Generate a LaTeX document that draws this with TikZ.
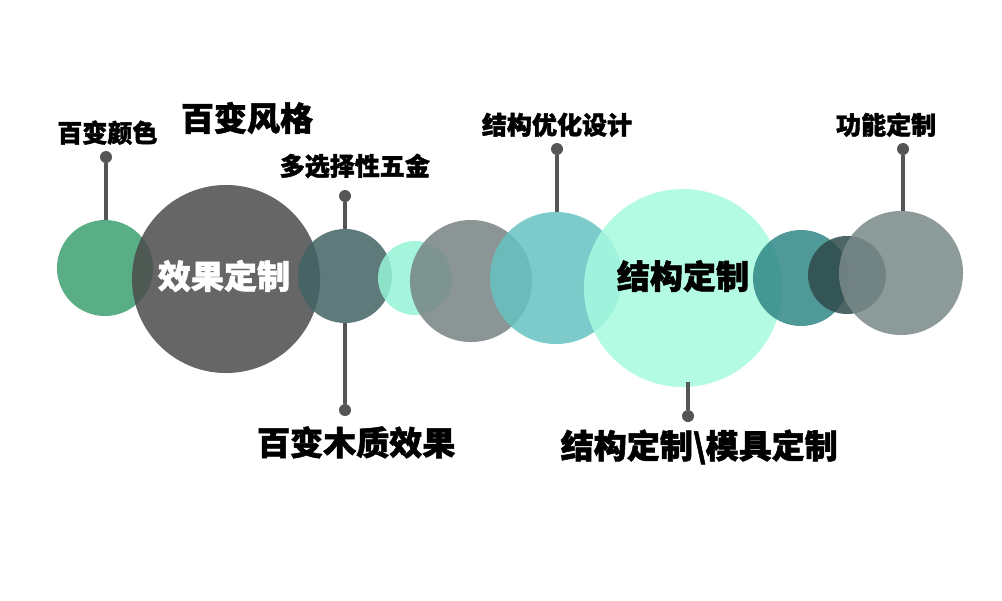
\documentclass[tikz,border=0pt]{standalone}
\usepackage{fontspec}
\setmainfont{Noto Sans CJK SC}[BoldFeatures={FakeBold=1.6}]
\usetikzlibrary{positioning}
\definecolor{cA}{HTML}{3DA070}
\definecolor{cB}{HTML}{4B4B4B}
\definecolor{cC}{HTML}{436363}
\definecolor{cD}{HTML}{94F3D6}
\definecolor{cE}{HTML}{788383}
\definecolor{cF}{HTML}{65C1C1}
\definecolor{cG}{HTML}{A6FADE}
\definecolor{cH}{HTML}{308886}
\definecolor{cI}{HTML}{2F4A4A}
\definecolor{cJ}{HTML}{798888}
\definecolor{pin}{HTML}{555555}
\tikzset{
    bubble/.style={circle, inner sep=0pt, fill opacity=0.85, text opacity=1},
    pindot/.style={circle, fill=pin, inner sep=0pt, minimum size=0.3cm},
    pinline/.style={draw=pin, line width=2.2pt},
    tagsmall/.style={font=\bfseries\fontsize{17.8}{20}\selectfont, inner sep=1pt},
    tagbig/.style={font=\bfseries\fontsize{23.5}{27}\selectfont, inner sep=1pt}
}
\begin{document}
\begin{tikzpicture}[x=0.025cm, y=-0.025cm]
    \useasboundingbox (0,0) rectangle (1002,600);

    % 圆
    \node[bubble, fill=cA, minimum size=2.40cm] (c1) at (105,268) {};
    \node[bubble, fill=cB, minimum size=4.70cm] (c2) at (226,279) {};
    \node[bubble, fill=cC, minimum size=2.35cm] (c3) at (345,276) {};
    \node[bubble, fill=cD, minimum size=1.85cm] (c4) at (415,278) {};
    \node[bubble, fill=cE, minimum size=3.05cm] (c5) at (471,281) {};
    \node[bubble, fill=cF, minimum size=3.30cm] (c6) at (556,278) {};
    \node[bubble, fill=cG, minimum size=4.95cm] (c7) at (683,288) {};
    \node[bubble, fill=cH, minimum size=2.40cm] (c8) at (801,278) {};
    \node[bubble, fill=cI, minimum size=1.95cm] (c9) at (847,275) {};
    \node[bubble, fill=cJ, minimum size=3.10cm] (c10) at (901,273) {};

    % 圆内文字
    \node[tagbig, white] at (224,276) {效果定制};
    \node[tagbig, black] at (683,276) {结构定制};

    % 标注
    \node[pindot] (p1) at (106,157) {};
    \draw[pinline] (p1 |- c1.north) -- (p1);
    \node[tagsmall, above=3pt of p1, xshift=1pt] {百变颜色};

    \node[pindot] (p2) at (345,196) {};
    \draw[pinline] (c3.north) -- (p2);
    \node[tagsmall, above=7pt of p2, xshift=7pt] {多选择性五金};

    \node[pindot] (p3) at (345,410) {};
    \draw[pinline] (c3.south) -- (p3);
    \node[tagbig, below=6pt of p3, xshift=8pt] {百变木质效果};

    \node[pindot] (p4) at (557,149) {};
    \draw[pinline] (p4 |- c6.north) -- (p4);
    \node[tagsmall, above=3pt of p4] {结构优化设计};

    \node[pindot] (p5) at (903,149) {};
    \draw[pinline] (p5 |- c10.north) -- (p5);
    \node[tagsmall, above=3pt of p5, xshift=-12pt] {功能定制};

    \node[pindot] (p6) at (688,416) {};
    \draw[pinline] ([yshift=4pt]p6 |- c7.south) -- (p6);
    \node[tagbig, below=4pt of p6, xshift=8pt] {结构定制\textbackslash 模具定制};

    \node[tagbig] (style) at (247,118) {百变风格};
\end{tikzpicture}
\end{document}
